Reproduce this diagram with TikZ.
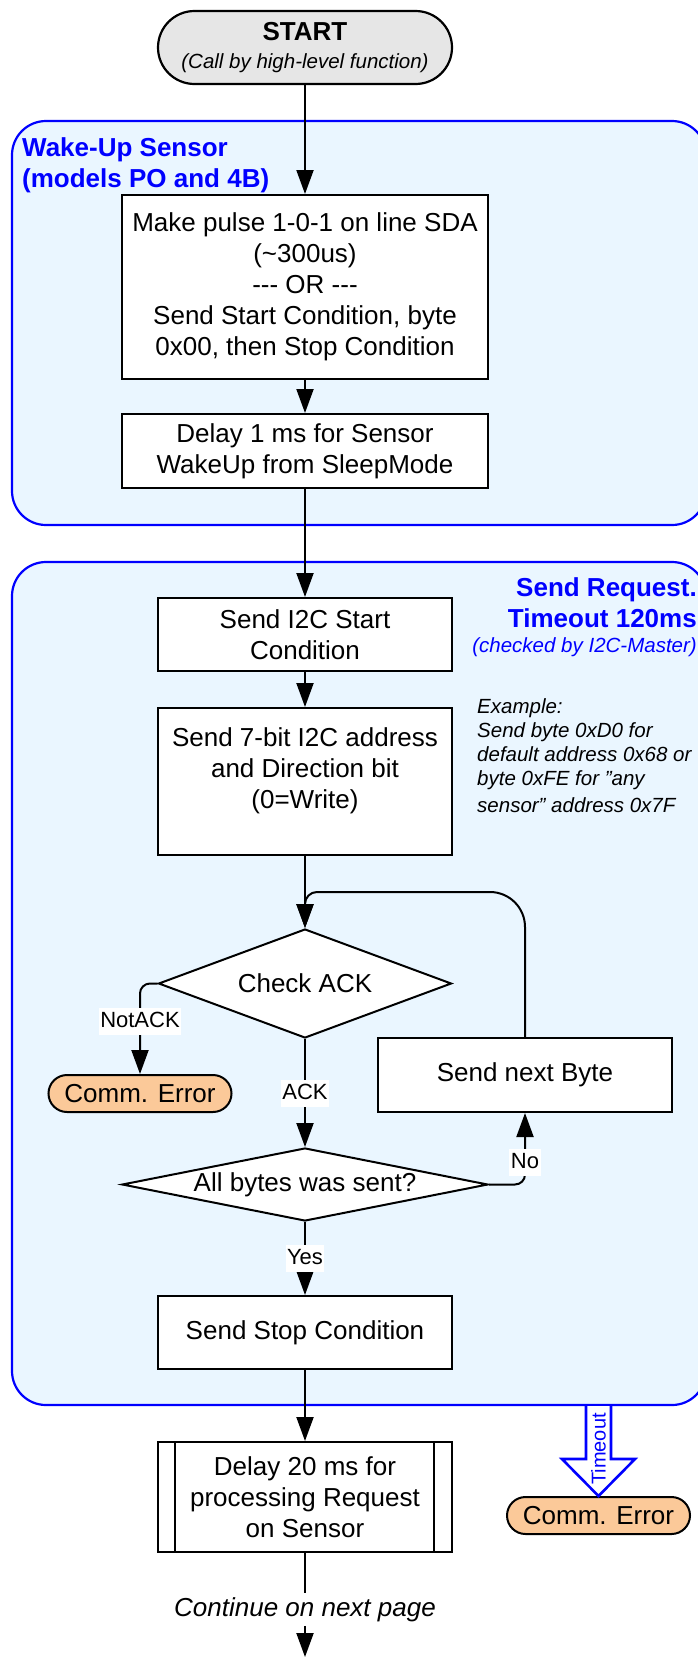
\documentclass[tikz,border=0pt]{standalone}
\usepackage{fontspec}
\setmainfont{Liberation Sans}
\usetikzlibrary{shapes.geometric, arrows.meta, calc}

\definecolor{grpfill}{RGB}{234,246,255}
\definecolor{grpline}{RGB}{0,0,255}
\definecolor{errfill}{RGB}{251,201,153}
\definecolor{startfill}{RGB}{230,230,230}

\newcommand\fmain{\fontsize{26}{31}\selectfont}
\newcommand\fsub{\fontsize{20.5}{24}\selectfont}
\newcommand\flbl{\fontsize{22}{26}\selectfont}

\begin{document}
\begin{tikzpicture}[x=1pt, y=-1pt,
  every node/.style={inner sep=0pt, font=\fmain},
  box/.style={draw, line width=2pt, fill=white, align=center, minimum width=294pt, minimum height=73pt},
  wide/.style={box, minimum width=366pt},
  dec/.style={draw, diamond, line width=2pt, fill=white, align=center},
  err/.style={draw, line width=2pt, fill=errfill, rounded corners=18.5pt, minimum width=183pt, minimum height=37pt},
  group/.style={draw=grpline, line width=2.2pt, fill=grpfill, rounded corners=34pt},
  conn/.style={line width=2pt},
  arr/.style={conn, -{Triangle[length=24pt, width=17pt]}},
  lbl/.style={fill=white, font=\flbl, sharp corners, inner xsep=1.5pt, inner ysep=2.5pt, text height=17pt, text depth=5pt},
  glabel/.style={text=grpline, font=\fmain\bfseries},
  tarrow/.style={draw=grpline, line width=2.6pt, fill=white, line join=miter}
]
\useasboundingbox (0,0) rectangle (697,1657);
\fill[white] (0,0) rectangle (697,1657);

% groups
\node[group, minimum width=694pt, minimum height=404pt] (g1) at (359,323) {};
\node[group, minimum width=694pt, minimum height=843pt] (g2) at (359,983.5) {};

\node[glabel, align=left, anchor=north west] (g1l) at (22,137.5) {Wake-Up Sensor\\(models PO and 4B)};
\node[glabel, align=right, anchor=north east] (g2l) at (697,577.5) {Send Request.\\Timeout 120ms};
\node[text=grpline, font=\fsub\itshape, anchor=base east] (g2s) at (697,652.3) {(checked by I2C-Master)};

% nodes
\node[box, fill=startfill, rounded corners=36.5pt, line width=2.2pt] (start) at (305,47.5)
  {{\bfseries START}\\[-3pt]{\fsub\itshape (Call by high-level function)}};
\node[wide, minimum height=184pt] (b1) at (305,287)
  {Make pulse 1-0-1 on line SDA\\(\textasciitilde300us)\\{-}{-}{-} OR {-}{-}{-}\\Send Start Condition, byte\\0x00, then Stop Condition};
\node[wide, minimum height=74pt] (b2) at (305,451) {Delay 1 ms for Sensor\\WakeUp from SleepMode};
\node[box] (b3) at (305,634.5) {Send I2C Start\\Condition};
\node[box, minimum height=147pt] (b4) at (305,781.5) {};
\node[align=center] (b4t) at (305,771) {Send 7-bit I2C address\\and Direction bit\\(0=Write)};
\node[font=\fsub\itshape, align=left, anchor=north west] (ex) at (477,698)
  {Example:\\Send byte 0xD0 for\\default address 0x68 or\\byte 0xFE for ”any\\[3pt]sensor” address 0x7F};

\node[dec, minimum width=293pt, minimum height=109pt, shape aspect=2.69] (d1) at (305,983.5) {Check ACK};
\node[err] (ce1) at (140,1093.5) {Comm. Error};
\node[box, minimum height=74pt] (nb) at (525,1075) {Send next Byte};
\node[dec, minimum width=366pt, minimum height=73pt, shape aspect=5] (d2) at (305,1184.5) {All bytes was sent?};
\node[box] (b6) at (305,1332.5) {Send Stop Condition};
\node[box, minimum height=110pt] (b7) at (305,1497) {Delay 20 ms for\\processing Request\\on Sensor};
\draw[conn] ($(b7.north west)+(18,0)$) -- ($(b7.south west)+(18,0)$);
\draw[conn] ($(b7.north east)+(-19,0)$) -- ($(b7.south east)+(-19,0)$);
\node[font=\fmain\itshape, inner ysep=4pt] (cont) at (305,1609.5) {Continue on next page};
\coordinate (endpt) at (305,1657);
\node[err] (ce2) at (598.5,1515.5) {Comm. Error};

% connectors
\draw[arr] (start) -- (b1);
\draw[arr] (b1) -- (b2);
\draw[arr] (b2) -- (b3);
\draw[arr] (b3) -- (b4);
\draw[arr] (b4) -- (d1);
\draw[arr, rounded corners=10pt] (d1.west) -| node[lbl, pos=0.71] {NotACK} (ce1.north);
\draw[arr] (d1) -- node[lbl] {ACK} (d2);
\draw[arr, rounded corners=10pt] (d2.east) -| node[lbl, pos=0.655] {No} (nb.south);
\coordinate (loopy) at (0,892);
\draw[arr] (nb.north) -- ($(nb.north |- loopy)+(0,35)$) arc[start angle=0, end angle=90, radius=35pt]
  -- ($(d1.north |- loopy)+(12,0)$) arc[start angle=90, end angle=180, radius=12pt] -- (d1.north);
\draw[arr] (d2) -- node[lbl] {Yes} (b6);
\draw[arr] (b6) -- (b7);
\draw[conn] (b7) -- (cont);
\draw[arr] (cont) -- (endpt);

% timeout block arrow
\coordinate (tt) at (ce2.north |- g2.south);
\draw[tarrow] ($(tt)+(-12.5,0)$) -- ($(ce2.north)+(-12.5,-37)$) -- ($(ce2.north)+(-36.5,-37)$)
  -- (ce2.north) -- ($(ce2.north)+(36.5,-37)$) -- ($(ce2.north)+(12.5,-37)$) -- ($(tt)+(12.5,0)$);
\node[rotate=90, text=grpline, font=\fontsize{20}{24}\selectfont] (tout) at (598.5,1449) {Timeout};
\end{tikzpicture}
\end{document}
